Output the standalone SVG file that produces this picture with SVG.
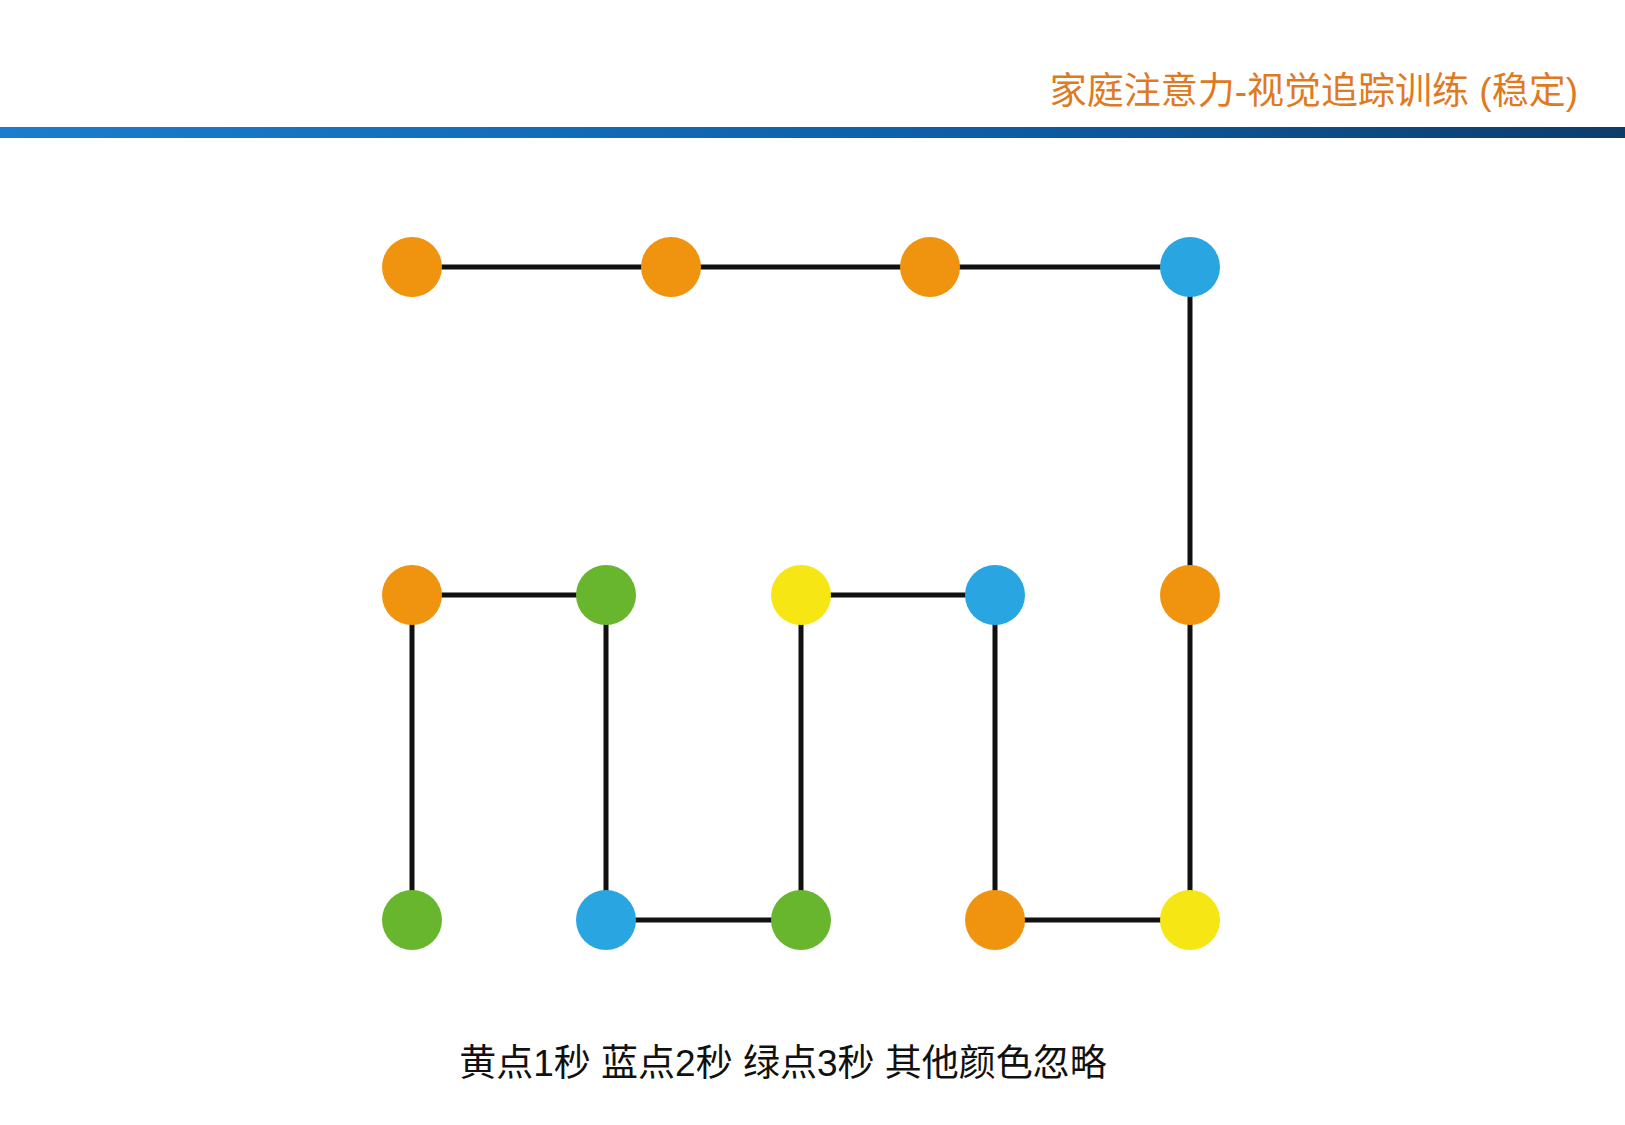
<svg xmlns="http://www.w3.org/2000/svg" width="1625" height="1125" viewBox="0 0 1625 1125">
<defs>
<linearGradient id="bar" x1="0" x2="1" y1="0" y2="0"><stop offset="0" stop-color="#1a7dcf"/><stop offset="0.6" stop-color="#0c5ea6"/><stop offset="1" stop-color="#0d3c6b"/></linearGradient>
</defs>
<style>
.t{font-family:"Liberation Sans","Noto Sans CJK SC",sans-serif}
.c line{stroke:#111;stroke-width:5}
.o{fill:#f0930e}.b{fill:#29a6e2}.g{fill:#68b62e}.y{fill:#f5e614}
</style>
<rect width="1625" height="1125" fill="#fff"/>
<text class="t" x="1578" y="104" font-size="37" fill="#e07a1f" text-anchor="end">家庭注意力-视觉追踪训练 (稳定)</text>
<rect x="0" y="127" width="1625" height="11" fill="url(#bar)"/>
<g class="c" id="connectors">
<line x1="412" y1="267" x2="1190" y2="267"/>
<line x1="1190" y1="267" x2="1190" y2="920"/>
<line x1="412" y1="595" x2="606" y2="595"/>
<line x1="412" y1="595" x2="412" y2="920"/>
<line x1="606" y1="595" x2="606" y2="920"/>
<line x1="606" y1="920" x2="801" y2="920"/>
<line x1="801" y1="595" x2="801" y2="920"/>
<line x1="801" y1="595" x2="995" y2="595"/>
<line x1="995" y1="595" x2="995" y2="920"/>
<line x1="995" y1="920" x2="1190" y2="920"/>
</g>
<g id="n1"><circle class="o" cx="412" cy="267" r="30"/></g>
<g id="n2"><circle class="o" cx="671" cy="267" r="30"/></g>
<g id="n3"><circle class="o" cx="930" cy="267" r="30"/></g>
<g id="n4"><circle class="b" cx="1190" cy="267" r="30"/></g>
<g id="n5"><circle class="o" cx="412" cy="595" r="30"/></g>
<g id="n6"><circle class="g" cx="606" cy="595" r="30"/></g>
<g id="n7"><circle class="y" cx="801" cy="595" r="30"/></g>
<g id="n8"><circle class="b" cx="995" cy="595" r="30"/></g>
<g id="n9"><circle class="o" cx="1190" cy="595" r="30"/></g>
<g id="n10"><circle class="g" cx="412" cy="920" r="30"/></g>
<g id="n11"><circle class="b" cx="606" cy="920" r="30"/></g>
<g id="n12"><circle class="g" cx="801" cy="920" r="30"/></g>
<g id="n13"><circle class="o" cx="995" cy="920" r="30"/></g>
<g id="n14"><circle class="y" cx="1190" cy="920" r="30"/></g>
<text class="t" x="783" y="1076" font-size="37" fill="#111" text-anchor="middle">黄点1秒 蓝点2秒 绿点3秒 其他颜色忽略</text>
</svg>
